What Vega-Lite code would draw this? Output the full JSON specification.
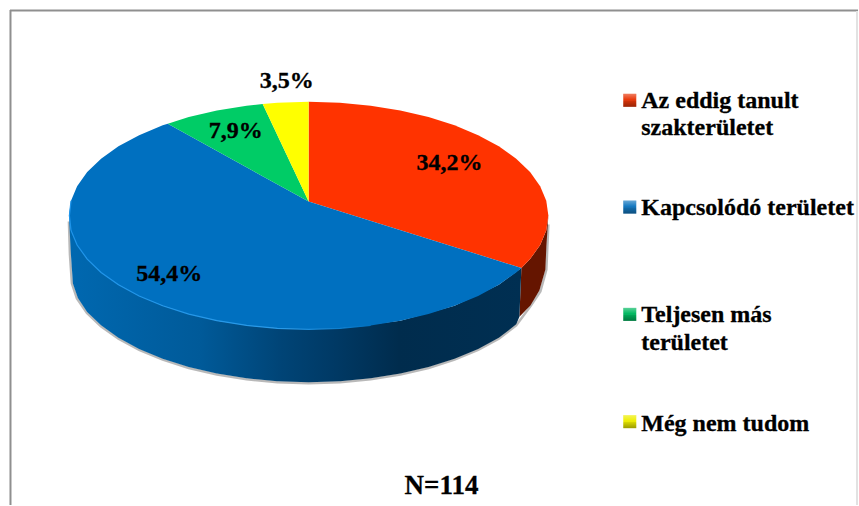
{
"$schema":"https://vega.github.io/schema/vega-lite/v6.json",
"width":859,"height":506,
"autosize":{"type":"fit","contains":"padding"},
"padding":0,
"background":"#ffffff",
"view":{"stroke":null},
"datasets":{
"frame":[
{"side":"left","x":10.5,"x2":10.5,"y":10,"y2":506,"tone":"dark"},
{"side":"top","x":10,"x2":859,"y":10.5,"y2":10.5,"tone":"dark"},
{"side":"right","x":858,"x2":858,"y":11,"y2":506,"tone":"light"}
],
"pie":[
{"part":"redwall","i":1,"x":549,"y":216},{"part":"redwall","i":2,"x":546.9,"y":230.9},{"part":"redwall","i":3,"x":540.8,"y":245.5},{"part":"redwall","i":4,"x":530.7,"y":259.6},{"part":"redwall","i":5,"x":522,"y":268.5},{"part":"redwall","i":6,"x":520,"y":317.5},{"part":"redwall","i":7,"x":531,"y":306},{"part":"redwall","i":8,"x":540,"y":291},{"part":"redwall","i":9,"x":546,"y":270},{"part":"redwall","i":10,"x":547,"y":247},
{"part":"bluewall","i":1,"x":522,"y":268.5},{"part":"bluewall","i":2,"x":499.4,"y":285.4},{"part":"bluewall","i":3,"x":455.1,"y":306.4},{"part":"bluewall","i":4,"x":400.8,"y":321.3},{"part":"bluewall","i":5,"x":340.3,"y":329},{"part":"bluewall","i":6,"x":277.7,"y":329},{"part":"bluewall","i":7,"x":217.2,"y":321.3},{"part":"bluewall","i":8,"x":162.9,"y":306.4},{"part":"bluewall","i":9,"x":118.6,"y":285.4},{"part":"bluewall","i":10,"x":87.3,"y":259.6},{"part":"bluewall","i":11,"x":71.1,"y":230.9},{"part":"bluewall","i":12,"x":69,"y":216},
{"part":"bluewall","i":13,"x":71,"y":255},{"part":"bluewall","i":14,"x":73,"y":284},{"part":"bluewall","i":15,"x":78,"y":298.5},{"part":"bluewall","i":16,"x":87.3,"y":312.6},{"part":"bluewall","i":17,"x":101.2,"y":326},{"part":"bluewall","i":18,"x":118.6,"y":338.4},{"part":"bluewall","i":19,"x":139.3,"y":349.6},{"part":"bluewall","i":20,"x":162.9,"y":359.4},{"part":"bluewall","i":21,"x":189,"y":367.7},{"part":"bluewall","i":22,"x":217.2,"y":374.3},{"part":"bluewall","i":23,"x":246.9,"y":379.1},{"part":"bluewall","i":24,"x":277.7,"y":382},{"part":"bluewall","i":25,"x":309,"y":383},{"part":"bluewall","i":26,"x":340.3,"y":382},{"part":"bluewall","i":27,"x":371.1,"y":379.1},{"part":"bluewall","i":28,"x":400.8,"y":374.3},{"part":"bluewall","i":29,"x":429,"y":367.7},{"part":"bluewall","i":30,"x":455.1,"y":359.4},{"part":"bluewall","i":31,"x":478.7,"y":349.6},{"part":"bluewall","i":32,"x":499.4,"y":338.4},{"part":"bluewall","i":33,"x":516.8,"y":325},{"part":"bluewall","i":34,"x":520,"y":317.5},
{"part":"edge","i":1,"x":69,"y":222},{"part":"edge","i":2,"x":70,"y":255},{"part":"edge","i":3,"x":72,"y":284},{"part":"edge","i":4,"x":77,"y":299},{"part":"edge","i":5,"x":87,"y":313.5},{"part":"edge","i":6,"x":101,"y":327},{"part":"edge","i":7,"x":118.6,"y":339.4},{"part":"edge","i":8,"x":139.3,"y":350.6},{"part":"edge","i":9,"x":162.9,"y":360.4},{"part":"edge","i":10,"x":189,"y":368.7},{"part":"edge","i":11,"x":217.2,"y":375.3},{"part":"edge","i":12,"x":246.9,"y":380.1},{"part":"edge","i":13,"x":277.7,"y":383},{"part":"edge","i":14,"x":309,"y":384},{"part":"edge","i":15,"x":340.3,"y":383},{"part":"edge","i":16,"x":371.1,"y":380.1},{"part":"edge","i":17,"x":400.8,"y":375.3},{"part":"edge","i":18,"x":429,"y":368.7},{"part":"edge","i":19,"x":455.1,"y":360.4},{"part":"edge","i":20,"x":478.7,"y":350.6},{"part":"edge","i":21,"x":499.4,"y":339.4},{"part":"edge","i":22,"x":516.8,"y":326},{"part":"edge","i":23,"x":531,"y":307},{"part":"edge","i":24,"x":541,"y":292},{"part":"edge","i":25,"x":547,"y":270},{"part":"edge","i":26,"x":548,"y":247},{"part":"edge","i":27,"x":549,"y":225},
{"part":"red","i":1,"x":309,"y":202},{"part":"red","i":2,"x":309,"y":102},{"part":"red","i":3,"x":340.3,"y":103},{"part":"red","i":4,"x":371.1,"y":105.9},{"part":"red","i":5,"x":400.8,"y":110.7},{"part":"red","i":6,"x":429,"y":117.3},{"part":"red","i":7,"x":455.1,"y":125.6},{"part":"red","i":8,"x":478.7,"y":135.4},{"part":"red","i":9,"x":499.4,"y":146.6},{"part":"red","i":10,"x":516.8,"y":159},{"part":"red","i":11,"x":530.7,"y":172.4},{"part":"red","i":12,"x":540.8,"y":186.5},{"part":"red","i":13,"x":546.9,"y":201.1},{"part":"red","i":14,"x":549,"y":216},{"part":"red","i":15,"x":546.9,"y":230.9},{"part":"red","i":16,"x":540.8,"y":245.5},{"part":"red","i":17,"x":530.7,"y":259.6},{"part":"red","i":18,"x":522,"y":268.5},
{"part":"blue","i":1,"x":309,"y":202},{"part":"blue","i":2,"x":522,"y":268.5},{"part":"blue","i":3,"x":516.8,"y":273},{"part":"blue","i":4,"x":499.4,"y":285.4},{"part":"blue","i":5,"x":478.7,"y":296.6},{"part":"blue","i":6,"x":455.1,"y":306.4},{"part":"blue","i":7,"x":429,"y":314.7},{"part":"blue","i":8,"x":400.8,"y":321.3},{"part":"blue","i":9,"x":371.1,"y":326.1},{"part":"blue","i":10,"x":340.3,"y":329},{"part":"blue","i":11,"x":309,"y":330},{"part":"blue","i":12,"x":277.7,"y":329},{"part":"blue","i":13,"x":246.9,"y":326.1},{"part":"blue","i":14,"x":217.2,"y":321.3},{"part":"blue","i":15,"x":189,"y":314.7},{"part":"blue","i":16,"x":162.9,"y":306.4},{"part":"blue","i":17,"x":139.3,"y":296.6},{"part":"blue","i":18,"x":118.6,"y":285.4},{"part":"blue","i":19,"x":101.2,"y":273},{"part":"blue","i":20,"x":87.3,"y":259.6},{"part":"blue","i":21,"x":77.2,"y":245.5},{"part":"blue","i":22,"x":71.1,"y":230.9},{"part":"blue","i":23,"x":69,"y":216},{"part":"blue","i":24,"x":71.1,"y":201.1},{"part":"blue","i":25,"x":77.2,"y":186.5},{"part":"blue","i":26,"x":87.3,"y":172.4},{"part":"blue","i":27,"x":101.2,"y":159},{"part":"blue","i":28,"x":118.6,"y":146.6},{"part":"blue","i":29,"x":139.3,"y":135.4},{"part":"blue","i":30,"x":162.9,"y":125.6},{"part":"blue","i":31,"x":168,"y":124},
{"part":"green","i":1,"x":309,"y":202},{"part":"green","i":2,"x":168,"y":124},{"part":"green","i":3,"x":189,"y":117.3},{"part":"green","i":4,"x":217.2,"y":110.7},{"part":"green","i":5,"x":246.9,"y":105.9},{"part":"green","i":6,"x":263,"y":104.3},
{"part":"yellow","i":1,"x":309,"y":202},{"part":"yellow","i":2,"x":263,"y":104.3},{"part":"yellow","i":3,"x":277.7,"y":103},{"part":"yellow","i":4,"x":309,"y":102},
{"part":"rim","i":1,"x":71.1,"y":201.1},{"part":"rim","i":2,"x":69.5,"y":216},{"part":"rim","i":3,"x":71.1,"y":230.9},{"part":"rim","i":4,"x":77.2,"y":245.5},{"part":"rim","i":5,"x":87.3,"y":259.6},{"part":"rim","i":6,"x":101.2,"y":273},{"part":"rim","i":7,"x":118.6,"y":285.4},{"part":"rim","i":8,"x":139.3,"y":296.6},{"part":"rim","i":9,"x":162.9,"y":306.4},{"part":"rim","i":10,"x":189,"y":314.7},{"part":"rim","i":11,"x":217.2,"y":321.3},{"part":"rim","i":12,"x":246.9,"y":326.1},{"part":"rim","i":13,"x":277.7,"y":329},{"part":"rim","i":14,"x":309,"y":330},{"part":"rim","i":15,"x":340.3,"y":329},{"part":"rim","i":16,"x":371.1,"y":326.1}
],
"labels":[
{"label":"3,5%","x":287,"y":88,"size":24,"group":"value"},
{"label":"7,9%","x":236,"y":138,"size":24,"group":"value"},
{"label":"34,2%","x":450,"y":170,"size":24,"group":"value"},
{"label":"54,4%","x":169.5,"y":282,"size":24,"group":"value"},
{"label":"N=114","x":442,"y":495,"size":27,"group":"value"},
{"label":"Az eddig tanult","x":642,"y":108,"size":24,"group":"legend"},
{"label":"szakterületet","x":642,"y":135,"size":24,"group":"legend"},
{"label":"Kapcsolódó területet","x":642,"y":215,"size":24,"group":"legend"},
{"label":"Teljesen más","x":642,"y":323,"size":24,"group":"legend"},
{"label":"területet","x":642,"y":351,"size":24,"group":"legend"},
{"label":"Még nem tudom","x":642,"y":432,"size":24,"group":"legend"}
],
"keys":[
{"name":"Az eddig tanult szakterületet","x":630.5,"y":100.5},
{"name":"Kapcsolódó területet","x":630.5,"y":207.5},
{"name":"Teljesen más területet","x":630.5,"y":315},
{"name":"Még nem tudom","x":630.5,"y":422.5}
]
},
"encoding":{
"x":{"field":"x","type":"quantitative","scale":{"domain":[0,859],"nice":false,"zero":false},"axis":null},
"y":{"field":"y","type":"quantitative","scale":{"domain":[0,506],"reverse":true,"nice":false,"zero":false},"axis":null}
},
"layer":[
{"data":{"name":"frame"},"transform":[{"filter":"datum.tone==='dark'"}],"mark":{"type":"rule","stroke":"#8f8f8f","strokeWidth":2},"encoding":{"x2":{"field":"x2"},"y2":{"field":"y2"}}},
{"data":{"name":"frame"},"transform":[{"filter":"datum.tone==='light'"}],"mark":{"type":"rule","stroke":"#e2e2e2","strokeWidth":2},"encoding":{"x2":{"field":"x2"},"y2":{"field":"y2"}}},
{"data":{"name":"pie"},"transform":[{"filter":"datum.part==='edge'"}],"mark":{"type":"line","stroke":"#8a8a8a","strokeWidth":2.5,"opacity":0.6},"encoding":{"order":{"field":"i"}}},
{"data":{"name":"pie"},"transform":[{"filter":"datum.part==='redwall'"}],"mark":{"type":"line","strokeWidth":0,"fill":"#651500"},"encoding":{"order":{"field":"i"}}},
{"data":{"name":"pie"},"transform":[{"filter":"datum.part==='bluewall'"}],"mark":{"type":"line","strokeWidth":0,"fill":{"gradient":"linear","x1":0,"y1":0,"x2":1,"y2":0,"stops":[{"offset":0,"color":"#0068b0"},{"offset":0.29,"color":"#005a99"},{"offset":0.47,"color":"#004476"},{"offset":0.58,"color":"#003a66"},{"offset":0.73,"color":"#002c4d"},{"offset":1,"color":"#002f52"}]}},"encoding":{"order":{"field":"i"}}},
{"data":{"name":"pie"},"transform":[{"filter":"datum.part==='red'"}],"mark":{"type":"line","strokeWidth":0,"fill":"#ff3300"},"encoding":{"order":{"field":"i"}}},
{"data":{"name":"pie"},"transform":[{"filter":"datum.part==='blue'"}],"mark":{"type":"line","strokeWidth":0,"fill":"#0070c0"},"encoding":{"order":{"field":"i"}}},
{"data":{"name":"pie"},"transform":[{"filter":"datum.part==='green'"}],"mark":{"type":"line","strokeWidth":0,"fill":"#00cc66"},"encoding":{"order":{"field":"i"}}},
{"data":{"name":"pie"},"transform":[{"filter":"datum.part==='yellow'"}],"mark":{"type":"line","strokeWidth":0,"fill":"#ffff00"},"encoding":{"order":{"field":"i"}}},
{"data":{"name":"pie"},"transform":[{"filter":"datum.part==='rim'"}],"mark":{"type":"line","strokeWidth":1.2,"stroke":{"gradient":"linear","x1":0,"y1":0,"x2":1,"y2":0,"stops":[{"offset":0,"color":"#1e94ea"},{"offset":0.7,"color":"#2a9ae8"},{"offset":1,"color":"#0070c0"}]}},"encoding":{"order":{"field":"i"}}},
{"data":{"name":"keys"},"mark":{"type":"point","shape":"square","filled":true,"size":169,"opacity":1},"encoding":{"color":{"field":"name","type":"nominal","sort":null,"legend":null,"scale":{"domain":["Az eddig tanult szakterületet","Kapcsolódó területet","Teljesen más területet","Még nem tudom"],"range":["#e8380a","#1478c0","#00b860","#eeee00"]}}}},
{"data":{"name":"keys"},"mark":{"type":"point","shape":"square","filled":true,"size":169,"opacity":1,"fill":{"gradient":"linear","x1":0,"y1":0,"x2":0,"y2":1,"stops":[{"offset":0,"color":"rgba(255,255,255,0.35)"},{"offset":0.45,"color":"rgba(255,255,255,0)"},{"offset":0.55,"color":"rgba(0,0,0,0.1)"},{"offset":1,"color":"rgba(0,0,0,0.35)"}]}}},
{"data":{"name":"labels"},"transform":[{"filter":"datum.group==='value'"}],"mark":{"type":"text","font":"Liberation Serif","fontWeight":"bold","baseline":"alphabetic","align":"center","color":"#000000","stroke":"#000000","strokeWidth":0.3},"encoding":{"text":{"field":"label"},"size":{"field":"size","type":"quantitative","scale":null}}},
{"data":{"name":"labels"},"transform":[{"filter":"datum.group==='legend'"}],"mark":{"type":"text","font":"Liberation Serif","fontWeight":"bold","baseline":"alphabetic","align":"left","color":"#000000","stroke":"#000000","strokeWidth":0.3},"encoding":{"text":{"field":"label"},"size":{"field":"size","type":"quantitative","scale":null}}}
]
}
